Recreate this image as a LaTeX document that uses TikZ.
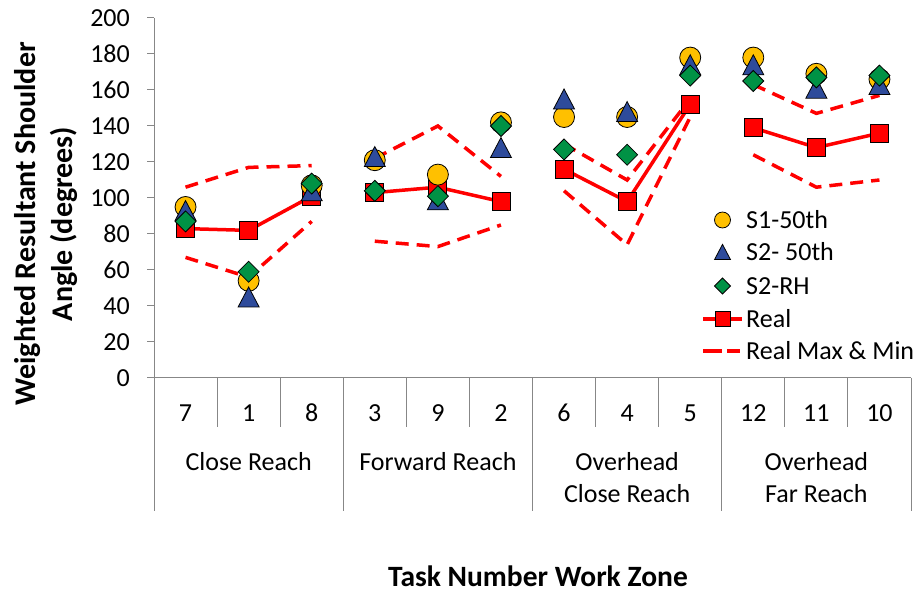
\documentclass[tikz,border=0pt]{standalone}
\usepackage{fontspec}
\setmainfont{Carlito}
\definecolor{cyel}{HTML}{FFC000}
\definecolor{cblue}{HTML}{2E4B9B}
\definecolor{cgreen}{HTML}{009245}
\definecolor{cred}{HTML}{FF0000}
\definecolor{caxis}{HTML}{878787}
\tikzset{
  mk/.style={draw=black, line width=0.8pt},
  pics/sone/.style={code={\draw[mk, fill=cyel] (0,0) circle[radius=10.5pt];}},
  pics/stwo/.style={code={\draw[mk, fill=cblue] (-10.5pt,-10pt) -- (10.5pt,-10pt) -- (0,10pt) -- cycle;}},
  pics/srh/.style={code={\draw[mk, fill=cgreen] (-10.5pt,0) -- (0,10.5pt) -- (10.5pt,0) -- (0,-10.5pt) -- cycle;}},
  pics/sreal/.style={code={\draw[mk, fill=cred] (-9pt,-9pt) rectangle (9pt,9pt);}},
  axisline/.style={draw=caxis, line width=1pt},
  realline/.style={draw=cred, line width=3.5pt, line join=round},
  rangeline/.style={draw=cred, line width=3.5pt, dash pattern=on 13pt off 8pt},
  ticklab/.style={font=\fontsize{26pt}{31pt}\selectfont, inner sep=0pt},
  titlelab/.style={font=\fontsize{30pt}{36pt}\selectfont\bfseries, inner sep=0pt},
}
\begin{document}
\begin{tikzpicture}
\useasboundingbox[fill=white] (0,0) rectangle (917pt,593pt);
\begin{scope}[shift={(154pt,215pt)}, x=63.083pt, y=1.8pt]
  % axes
  \draw[axisline] (0,0) -- (0,200);
  \foreach \v in {0,20,...,200} {
    \draw[axisline] (0,\v) -- ++(-7pt,0);
    \node[ticklab, anchor=east, xshift=-24pt] (yl\v) at (0,\v) {\v};
  }
  \draw[axisline] (0,0) -- (12,0);
  \foreach \i in {1,2,4,5,7,8,10,11} \draw[axisline] (\i,0) -- ++(0,-49pt);
  \foreach \i in {0,3,6,9,12} \draw[axisline] (\i,0) -- ++(0,-133pt);
  % category labels
  \foreach \t [count=\i from 0] in {7,1,8,3,9,2,6,4,5,12,11,10}
    \node[ticklab, yshift=-35pt] (cat\i) at (\i+0.5,0) {\t};
  \node[ticklab, anchor=base, yshift=-93pt] (g1) at (1.5,0) {Close Reach};
  \node[ticklab, anchor=base, yshift=-93pt] (g2) at (4.5,0) {Forward Reach};
  \node[ticklab, anchor=base, yshift=-93pt] (g3a) at (7.5,0) {Overhead};
  \node[ticklab, anchor=base, yshift=-125pt] (g3b) at (7.5,0) {Close Reach};
  \node[ticklab, anchor=base, yshift=-93pt] (g4a) at (10.5,0) {Overhead};
  \node[ticklab, anchor=base, yshift=-125pt] (g4b) at (10.5,0) {Far Reach};
  % max & min
  \draw[rangeline] (0.5,106) -- (1.5,117) -- (2.5,118);
  \draw[rangeline] (3.5,122) -- (4.5,140) -- (5.5,112);
  \draw[rangeline] (6.5,130) -- (7.5,110) -- (8.5,155);
  \draw[rangeline] (9.5,163) -- (10.5,147) -- (11.5,157);
  \draw[rangeline] (0.5,67) -- (1.5,56) -- (2.5,87);
  \draw[rangeline] (3.5,76) -- (4.5,73) -- (5.5,85);
  \draw[rangeline] (6.5,104) -- (7.5,74) -- (8.5,145);
  \draw[rangeline] (9.5,124) -- (10.5,106) -- (11.5,110);
  % real
  \draw[realline] (0.5,83) -- (1.5,82) -- (2.5,101);
  \draw[realline] (3.5,103) -- (4.5,106) -- (5.5,98);
  \draw[realline] (6.5,116) -- (7.5,98) -- (8.5,152);
  \draw[realline] (9.5,139) -- (10.5,128) -- (11.5,136);
  \foreach \v [count=\i from 0] in {83,82,101,103,106,98,116,98,152,139,128,136}
    \pic at (\i+0.5,\v) {sreal};
  \foreach \v [count=\i from 0] in {95,54,107,121,113,142,145,145,178,178,169,166}
    \pic at (\i+0.5,\v) {sone};
  \foreach \v [count=\i from 0] in {93,45,104,123,99,128,155,148,174,174,161,163}
    \pic at (\i+0.5,\v) {stwo};
  \foreach \v [count=\i from 0] in {87,59,108,104,101,140,127,124,168,165,167,168}
    \pic at (\i+0.5,\v) {srh};
\end{scope}
% legend
\pic[scale=0.76] at (722.5pt,373pt) {sone};
\pic[scale=0.76] at (722.5pt,341pt) {stwo};
\pic[scale=0.76] at (722.5pt,307pt) {srh};
\draw[realline, line cap=butt] (703pt,274pt) -- (742pt,274pt);
\pic[scale=0.83] at (722.5pt,274pt) {sreal};
\draw[draw=cred, line width=3.5pt] (703pt,242pt) -- (722pt,242pt);
\draw[draw=cred, line width=3.5pt] (727pt,242pt) -- (740pt,242pt);
\node[ticklab, anchor=base west] (l1) at (746pt,364.6pt) {S1-50th};
\node[ticklab, anchor=base west] (l2) at (746pt,332.6pt) {S2- 50th};
\node[ticklab, anchor=base west] (l3) at (746pt,298.6pt) {S2-RH};
\node[ticklab, anchor=base west] (l4) at (746pt,265.6pt) {Real};
\node[ticklab, anchor=base west] (l5) at (746pt,233.6pt) {Real Max \& Min};
% titles
\node[titlelab, anchor=base, font=\fontsize{29.5pt}{35pt}\selectfont\bfseries] (xt) at (538pt,6pt) {Task Number Work Zone};
\node[titlelab, rotate=90, anchor=base] (yt1) at (35pt,369pt) {Weighted Resultant Shoulder};
\node[titlelab, rotate=90, anchor=base] (yt2) at (72pt,369pt) {Angle (degrees)};
\end{tikzpicture}
\end{document}
